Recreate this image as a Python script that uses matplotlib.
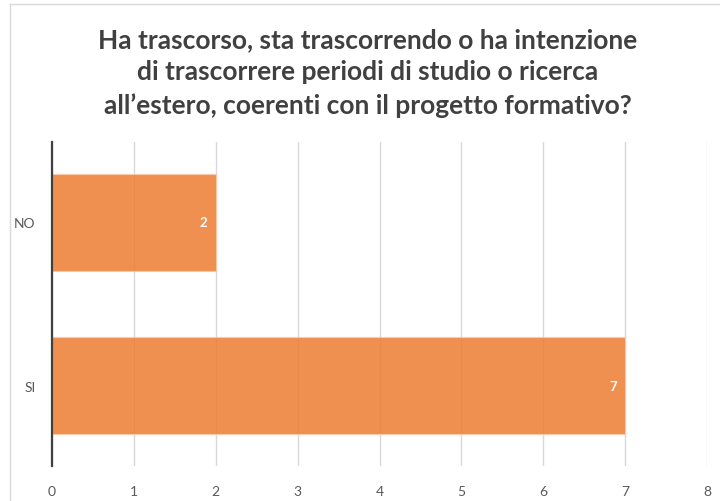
import matplotlib.pyplot as plt
from matplotlib.lines import Line2D

categories = ["SI", "NO"]
counts = [7, 2]
x_ticks = [0, 1, 2, 3, 4, 5, 6, 7, 8]

title = ("Ha trascorso, sta trascorrendo o ha intenzione\n"
         "di trascorrere periodi di studio o ricerca\n"
         "all\u2019estero, coerenti con il progetto formativo?")

plt.rcParams['font.family'] = ['Lato', 'DejaVu Sans']

fig = plt.figure(figsize=(7.2, 5.02), dpi=100)
ax = fig.add_axes([0.0722, 0.0697, 0.9098, 0.6453])

bars = ax.barh(categories, counts, height=0.593, color="#ED7D31", alpha=0.85,
               edgecolor="#F8CBAD", linewidth=0.8, zorder=3)

for bar, v in zip(bars, counts):
    ax.text(bar.get_width() - 0.1, bar.get_y() + bar.get_height() / 2, str(v),
            ha="right", va="center", color="white", fontsize=9.5, fontweight="bold",
            zorder=4)

ax.set_xlim(0, 8)
ax.set_ylim(-0.49, 1.49)
ax.set_xticks(x_ticks)
ax.grid(axis="x", color="#D9D9D9", linewidth=1, zorder=0)
ax.tick_params(axis="both", length=0, colors="#595959", labelsize=10)
ax.tick_params(axis="x", pad=14)
ax.tick_params(axis="y", pad=12)

for s in ["top", "right", "bottom"]:
    ax.spines[s].set_visible(False)
ax.spines["left"].set_color("#404040")
ax.spines["left"].set_linewidth(1.6)
ax.spines["left"].set_zorder(5)

fig.text(0.511, 0.855, title, ha="center", va="center", fontsize=19,
         fontweight="bold", color="#404040", linespacing=1.42)

# chart frame (cropped on right and bottom)
fig.add_artist(Line2D([10 / 720, 10 / 720], [0, 1 - 5 / 502], transform=fig.transFigure,
                      color="#D9D9D9", linewidth=1))
fig.add_artist(Line2D([10 / 720, 1], [1 - 5 / 502, 1 - 5 / 502], transform=fig.transFigure,
                      color="#D9D9D9", linewidth=1))

plt.savefig("out.png", dpi=100)
